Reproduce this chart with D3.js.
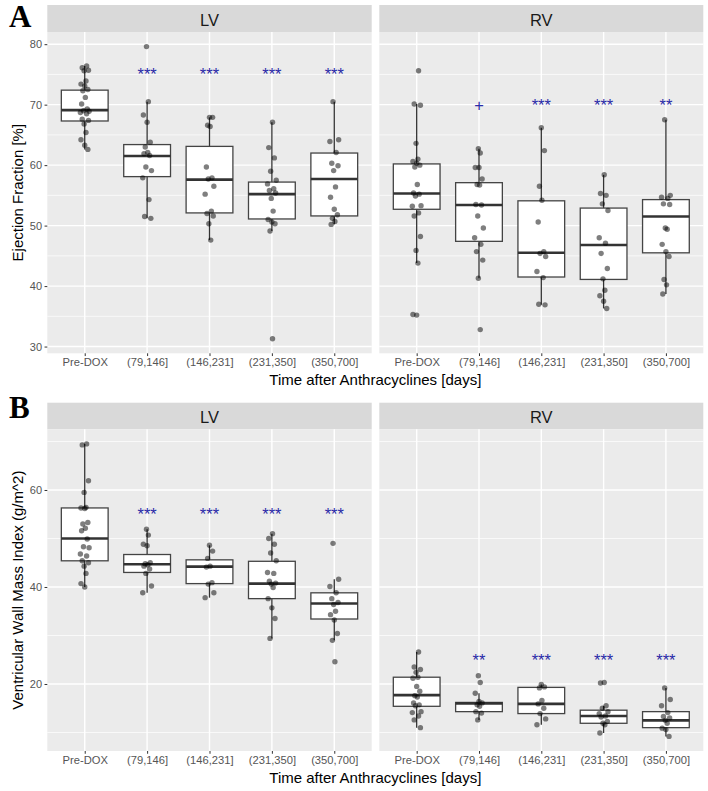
<!DOCTYPE html>
<html>
<head>
<meta charset="utf-8">
<script src="https://cdn.jsdelivr.net/npm/d3@7"></script>
<style>
  html, body { margin: 0; padding: 0; background: #ffffff; }
  svg { display: block; }
</style>
</head>
<body>
<svg id="chart" width="708" height="791"></svg>
<script>
// ---------------- DATA ----------------
const categories = ["Pre-DOX", "(79,146]", "(146,231]", "(231,350]", "(350,700]"];
const facets = ["LV", "RV"];

// Ejection Fraction [%] – individual observations per category
const efLV = [
  [76.4, 76.1, 75.7, 75.6, 73.9, 73.4, 73.1, 72.5, 72.3, 71.2, 70.1, 69.3, 69.0, 68.9, 68.7, 68.5, 67.6, 67.4, 66.8, 65.4, 64.2, 63.3, 62.6],
  [79.6, 70.5, 68.3, 67.1, 63.8, 63.0, 62.1, 61.9, 61.6, 59.7, 59.1, 57.9, 54.3, 51.5, 51.2],
  [67.9, 67.9, 66.6, 66.4, 59.7, 57.9, 57.7, 56.5, 55.2, 52.4, 52.0, 51.6, 50.3, 47.6],
  [67.1, 62.9, 61.2, 59.0, 57.5, 56.9, 56.1, 55.8, 55.4, 54.5, 52.4, 51.0, 50.6, 50.3, 49.1, 31.3],
  [70.5, 64.2, 63.9, 62.1, 60.3, 59.9, 59.1, 56.4, 54.7, 52.7, 51.8, 51.2, 50.7, 50.2]
];
const efRV = [
  [75.6, 70.1, 69.9, 63.6, 61.0, 60.6, 60.3, 60.0, 59.7, 56.8, 55.4, 55.2, 54.9, 53.3, 53.2, 52.1, 51.6, 48.2, 45.9, 43.8, 35.3, 35.2],
  [62.7, 62.0, 59.6, 59.6, 57.7, 56.8, 56.7, 53.5, 53.4, 51.6, 49.6, 48.0, 46.9, 45.7, 44.3, 41.3, 32.8],
  [66.2, 62.4, 56.5, 54.2, 50.6, 45.7, 45.4, 44.9, 42.4, 41.4, 37.0, 36.9],
  [58.4, 55.3, 55.0, 53.6, 52.5, 48.0, 47.1, 45.4, 42.9, 41.2, 39.3, 38.4, 37.5, 36.3],
  [67.5, 55.0, 54.7, 54.5, 53.6, 53.5, 49.6, 49.4, 46.9, 45.7, 44.9, 41.1, 40.2, 38.7]
];
// box statistics [lower whisker, Q1, median, Q3, upper whisker]
const efLVBox = [
  [62.6, 67.3, 69.1, 72.4, 76.4],
  [51.2, 58.1, 61.5, 63.4, 70.5],
  [47.6, 52.1, 57.6, 63.1, 67.9],
  [49.1, 51.1, 55.2, 57.2, 67.1],
  [50.2, 51.6, 57.7, 62.0, 70.5]
];
const efRVBox = [
  [43.8, 52.7, 55.3, 60.2, 70.1],
  [41.3, 47.4, 53.4, 57.1, 62.7],
  [36.9, 41.5, 45.5, 54.1, 66.2],
  [36.3, 41.1, 46.8, 52.9, 58.4],
  [38.7, 45.5, 51.5, 54.3, 67.5]
];

// Ventricular Wall Mass Index (g/m^2)
const wmiLV = [
  [69.5, 69.3, 61.9, 59.5, 56.4, 56.3, 56.2, 53.3, 53.0, 52.1, 51.6, 49.9, 48.3, 48.1, 46.8, 46.4, 45.4, 45.0, 44.3, 42.8, 40.7, 40.0],
  [51.9, 50.7, 48.8, 48.5, 45.0, 44.8, 44.6, 44.3, 43.7, 42.8, 40.2, 38.8],
  [48.6, 47.4, 45.9, 44.3, 44.1, 40.9, 40.6, 38.8, 37.8],
  [51.0, 50.0, 48.8, 47.0, 45.4, 43.0, 42.8, 41.2, 40.8, 40.6, 39.9, 37.6, 35.7, 33.5, 29.4],
  [49.0, 41.6, 40.1, 38.8, 37.6, 36.8, 36.4, 35.0, 34.3, 33.2, 30.4, 29.0, 24.6]
];
const wmiRV = [
  [26.6, 23.5, 23.0, 22.4, 21.4, 21.2, 19.5, 18.5, 17.6, 17.3, 16.1, 15.7, 15.5, 14.3, 14.1, 13.4, 12.6, 11.0],
  [21.7, 20.3, 18.1, 16.4, 16.1, 15.7, 15.4, 14.3, 14.0, 12.6],
  [19.9, 19.4, 19.2, 16.6, 15.9, 15.0, 13.9, 12.8, 11.6],
  [20.3, 20.2, 15.5, 15.0, 14.3, 13.9, 13.4, 13.2, 12.3, 11.9, 11.6, 9.9],
  [19.2, 16.8, 15.5, 14.1, 13.3, 13.0, 12.5, 11.9, 10.9, 10.6, 9.2]
];
const wmiLVBox = [
  [40.0, 45.4, 50.0, 56.3, 69.5],
  [38.8, 43.0, 44.7, 46.7, 51.9],
  [37.8, 40.7, 44.2, 45.6, 48.6],
  [29.4, 37.6, 40.7, 45.3, 51.0],
  [29.0, 33.4, 36.6, 38.8, 41.6]
];
const wmiRVBox = [
  [11.0, 15.4, 17.7, 21.4, 26.6],
  [12.6, 14.3, 16.0, 16.2, 18.1],
  [11.6, 13.9, 15.9, 19.3, 19.9],
  [9.9, 11.9, 13.4, 14.6, 15.5],
  [9.2, 11.0, 12.5, 14.3, 19.2]
];

// significance labels and their y-values
const efLVSig = ["", "***", "***", "***", "***"];
const efRVSig = ["", "+", "***", "***", "**"];
const wmiLVSig = ["", "***", "***", "***", "***"];
const wmiRVSig = ["", "**", "***", "***", "***"];
const efSigY = [75, 70];    // LV, RV
const wmiSigY = [55, 25];   // LV, RV

// axis ticks and titles
const efTicks = [30, 40, 50, 60, 70, 80];
const wmiTicks = [20, 40, 60];
const efTitle = "Ejection Fraction [%]";
const wmiTitle = "Ventricular Wall Mass Index (g/m^2)";
const xTitle = "Time after Anthracyclines [days]";
const panelLetters = ["A", "B"];

// ---------------- LAYOUT / STYLE ----------------
const svg = d3.select("#chart");
const facetX = [[47.3, 371.7], [379.3, 703.3]];
const rows = [
  { letter: panelLetters[0], stripTop: 5, top: 32, bottom: 353.3,
    data: [efLV, efRV], box: [efLVBox, efRVBox], sig: [efLVSig, efRVSig], sigY: efSigY,
    ticks: efTicks, title: efTitle, letterY: 27 },
  { letter: panelLetters[1], stripTop: 402.7, top: 429.3, bottom: 751,
    data: [wmiLV, wmiRV], box: [wmiLVBox, wmiRVBox], sig: [wmiLVSig, wmiRVSig], sigY: wmiSigY,
    ticks: wmiTicks, title: wmiTitle, letterY: 418 }
];
// deterministic horizontal jitter pattern (fraction of category step)
const jitterPattern = [0.03, -0.04, 0.06, -0.01, 0.02, -0.06, 0.0, 0.05, -0.03, 0.01, -0.05, 0.04, -0.02, 0.07, -0.07];

const FONT = "'Liberation Sans', Arial, Helvetica, sans-serif";

rows.forEach(row => {
  const all = row.data.flat(2);
  const lo = d3.min(all), hi = d3.max(all);
  const pad = (hi - lo) * 0.05;
  const y = d3.scaleLinear().domain([lo - pad, hi + pad]).range([row.bottom, row.top]);

  const step = row.ticks[1] - row.ticks[0];
  const minor = [];
  for (let v = row.ticks[0] - step / 2; v <= y.domain()[1]; v += step) {
    if (v >= y.domain()[0]) minor.push(v);
  }

  facets.forEach((facet, fi) => {
    const [x0, x1] = facetX[fi];
    const x = d3.scalePoint().domain(categories).range([x0, x1]).padding(0.6);
    const bw = x.step() * 0.75;
    const g = svg.append("g");

    // strip
    g.append("rect").attr("x", x0).attr("y", row.stripTop)
      .attr("width", x1 - x0).attr("height", row.top - row.stripTop).attr("fill", "#D9D9D9");
    g.append("text").attr("x", (x0 + x1) / 2).attr("y", (row.stripTop + row.top) / 2 + 1)
      .attr("text-anchor", "middle").attr("dominant-baseline", "central")
      .attr("font-family", FONT).attr("font-size", 16.5).attr("fill", "#1A1A1A").text(facet);

    // panel background
    g.append("rect").attr("x", x0).attr("y", row.top)
      .attr("width", x1 - x0).attr("height", row.bottom - row.top).attr("fill", "#EBEBEB");

    // grid
    g.selectAll(".minor").data(minor).enter().append("line")
      .attr("x1", x0).attr("x2", x1).attr("y1", d => y(d)).attr("y2", d => y(d))
      .attr("stroke", "#ffffff").attr("stroke-width", 0.7);
    g.selectAll(".majorY").data(row.ticks).enter().append("line")
      .attr("x1", x0).attr("x2", x1).attr("y1", d => y(d)).attr("y2", d => y(d))
      .attr("stroke", "#ffffff").attr("stroke-width", 1.4);
    g.selectAll(".majorX").data(categories).enter().append("line")
      .attr("x1", d => x(d)).attr("x2", d => x(d)).attr("y1", row.top).attr("y2", row.bottom)
      .attr("stroke", "#ffffff").attr("stroke-width", 1.4);

    const boxes = row.box[fi];
    // whiskers
    g.selectAll(".whU").data(categories).enter().append("line")
      .attr("x1", d => x(d)).attr("x2", d => x(d))
      .attr("y1", (d, i) => y(boxes[i][3])).attr("y2", (d, i) => y(boxes[i][4]))
      .attr("stroke", "#333333").attr("stroke-width", 1.3);
    g.selectAll(".whL").data(categories).enter().append("line")
      .attr("x1", d => x(d)).attr("x2", d => x(d))
      .attr("y1", (d, i) => y(boxes[i][1])).attr("y2", (d, i) => y(boxes[i][0]))
      .attr("stroke", "#333333").attr("stroke-width", 1.3);
    // boxes
    g.selectAll(".box").data(categories).enter().append("rect")
      .attr("x", d => x(d) - bw / 2).attr("width", bw)
      .attr("y", (d, i) => y(boxes[i][3]))
      .attr("height", (d, i) => y(boxes[i][1]) - y(boxes[i][3]))
      .attr("fill", "#ffffff").attr("stroke", "#444444").attr("stroke-width", 1.3);
    g.selectAll(".med").data(categories).enter().append("line")
      .attr("x1", d => x(d) - bw / 2).attr("x2", d => x(d) + bw / 2)
      .attr("y1", (d, i) => y(boxes[i][2])).attr("y2", (d, i) => y(boxes[i][2]))
      .attr("stroke", "#333333").attr("stroke-width", 2.6);

    // points
    row.data[fi].forEach((vals, ci) => {
      g.selectAll(null).data(vals).enter().append("circle")
        .attr("cx", (d, j) => x(categories[ci]) + jitterPattern[(j + ci * 3) % jitterPattern.length] * x.step())
        .attr("cy", d => y(d))
        .attr("r", 2.7)
        .attr("fill", "#000000").attr("fill-opacity", 0.5);
    });

    // significance labels
    const sig = row.sig[fi];
    g.selectAll(".sig").data(categories).enter().append("text")
      .attr("x", d => x(d)).attr("y", y(row.sigY[fi]))
      .attr("text-anchor", "middle").attr("dominant-baseline", "central")
      .attr("font-family", FONT).attr("font-size", 16.5).attr("fill", "#2A2AA8")
      .text((d, i) => sig[i]);

    // x axis
    const xa = svg.append("g").attr("transform", `translate(0,${row.bottom})`)
      .call(d3.axisBottom(x).tickSize(2.75).tickPadding(2.5));
    xa.select(".domain").remove();
    xa.selectAll(".tick line").attr("stroke", "#333333").attr("stroke-width", 1);
    xa.selectAll(".tick text").attr("font-family", FONT).attr("font-size", 11.2).attr("fill", "#555555");

    // y axis only for first facet
    if (fi === 0) {
      const ya = svg.append("g").attr("transform", `translate(${x0},0)`)
        .call(d3.axisLeft(y).tickValues(row.ticks).tickSize(2.75).tickPadding(2.5));
      ya.select(".domain").remove();
      ya.selectAll(".tick line").attr("stroke", "#333333").attr("stroke-width", 1);
      ya.selectAll(".tick text").attr("font-family", FONT).attr("font-size", 11).attr("fill", "#555555");
    }
  });

  // y title
  const cy = (row.top + row.bottom) / 2;
  svg.append("text").attr("transform", `translate(22.5,${cy}) rotate(-90)`)
    .attr("text-anchor", "middle").attr("font-family", FONT).attr("font-size", 15)
    .attr("fill", "#000000").text(row.title);

  // x title
  svg.append("text").attr("x", (facetX[0][0] + facetX[1][1]) / 2).attr("y", row.bottom + 32)
    .attr("text-anchor", "middle").attr("font-family", FONT).attr("font-size", 15)
    .attr("fill", "#000000").text(xTitle);

  // panel letter
  svg.append("text").attr("x", 9).attr("y", row.letterY)
    .attr("font-family", "'Liberation Serif', 'Times New Roman', serif").attr("font-weight", "bold")
    .attr("font-size", 31).attr("fill", "#000000").text(row.letter);
});
</script>
</body>
</html>
